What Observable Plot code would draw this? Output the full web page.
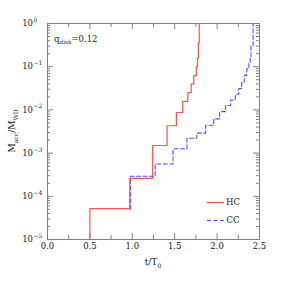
<!DOCTYPE html>
<html>
<head>
<meta charset="utf-8">
<script src="https://cdn.jsdelivr.net/npm/d3@7"></script>
<script src="https://cdn.jsdelivr.net/npm/@observablehq/plot@0.6"></script>
<style>
  html, body { margin: 0; padding: 0; background: #fff; }
  #chart { width: 281px; height: 281px; }
</style>
</head>
<body>
<div id="chart"></div>
<script>
// ---- data ----
const hcTime  = [0.5, 0.5, 0.97, 1.24, 1.41, 1.52, 1.595, 1.655, 1.695, 1.725, 1.755, 1.77, 1.78, 1.79];
const hcMass  = [1e-5, 5.2e-5, 2.6e-4, 1.5e-3, 4.3e-3, 8.7e-3, 0.0158, 0.025, 0.040, 0.062, 0.10, 0.16, 0.35, 1.0];
const ccTime  = [0.98, 0.98, 1.27, 1.48, 1.645, 1.76, 1.865, 1.96, 2.03, 2.10, 2.16, 2.215, 2.255, 2.29, 2.32, 2.35, 2.375, 2.39, 2.40, 2.425];
const ccMass  = [5e-5, 2.9e-4, 5.6e-4, 1.26e-3, 2.2e-3, 2.9e-3, 4.4e-3, 6.2e-3, 9.1e-3, 0.0126, 0.017, 0.023, 0.031, 0.044, 0.063, 0.089, 0.126, 0.166, 0.3, 1.0];
const xTicks      = [0, 0.5, 1.0, 1.5, 2.0, 2.5];
const xTickLabels = ["0.0", "0.5", "1.0", "1.5", "2.0", "2.5"];
const xMinor      = [0.25, 0.75, 1.25, 1.75, 2.25];
const yTicks      = [1e-5, 1e-4, 1e-3, 1e-2, 1e-1, 1];
const yExponents  = ["\u22125", "\u22124", "\u22123", "\u22122", "\u22121", "0"];
const seriesNames = ["HC", "CC"];
const annotation  = {q: "q", sub: "disk", rest: "=0.12"};

const hc = hcTime.map((t, i) => ({t, m: hcMass[i]}));
const cc = ccTime.map((t, i) => ({t, m: ccMass[i]}));
const yMinor = [];
for (let e = -5; e < 0; e++) for (let k = 2; k <= 9; k++) yMinor.push(k * Math.pow(10, e));

const W = 281, H = 281;
const mT = 23, mR = 22, mB = 42, mL = 47;
const iW = W - mL - mR, iH = H - mT - mB;
const FONT = "DejaVu Serif";
const AX = "#808080";
const RED = "#ff5050", BLUE = "#5050ff";

const svg = Plot.plot({
  width: W, height: H,
  marginTop: mT, marginRight: mR, marginBottom: mB, marginLeft: mL,
  style: {fontFamily: FONT, fontSize: "8.5px", color: "#222", background: "#fff"},
  x: {domain: [0, 2.5], axis: null},
  y: {type: "log", domain: [1e-5, 1], axis: null},
  marks: [
    Plot.line(cc, {x: "t", y: "m", curve: "step-after", stroke: BLUE, strokeWidth: 1.1, strokeDasharray: "4,2.5", clip: true}),
    Plot.line(hc, {x: "t", y: "m", curve: "step-after", stroke: RED, strokeWidth: 1.2, clip: true}),
    Plot.frame({stroke: AX, strokeWidth: 1}),
    // x ticks bottom / top (inward)
    Plot.ruleX(xTicks, {x: d => d, insetTop: iH - 6, stroke: AX}),
    Plot.ruleX(xTicks, {x: d => d, insetBottom: iH - 6, stroke: AX}),
    Plot.ruleX(xMinor, {x: d => d, insetTop: iH - 4, stroke: AX}),
    Plot.ruleX(xMinor, {x: d => d, insetBottom: iH - 4, stroke: AX}),
    // y ticks left / right (inward)
    Plot.ruleY(yTicks, {y: d => d, insetRight: iW - 6, stroke: AX}),
    Plot.ruleY(yTicks, {y: d => d, insetLeft: iW - 6, stroke: AX}),
    Plot.ruleY(yMinor, {y: d => d, insetRight: iW - 3, stroke: AX}),
    Plot.ruleY(yMinor, {y: d => d, insetLeft: iW - 3, stroke: AX}),
    // tick labels
    Plot.text(xTicks, {x: d => d, text: (d, i) => xTickLabels[i], frameAnchor: "bottom", dy: 9, fill: "#222"}),
    Plot.text(yTicks, {y: d => d, text: () => "10", frameAnchor: "left", dx: -14.5, textAnchor: "end", fill: "#222"}),
    Plot.text(yTicks, {y: d => d, text: (d, i) => yExponents[i], frameAnchor: "left", dx: -14, dy: -3.5, textAnchor: "start", fontSize: 6, fill: "#222"})
  ]
});

const s = d3.select(svg);
function rich(x, y, parts, opts = {}) {
  const t = s.append("text")
    .attr("font-family", FONT).attr("font-size", opts.size || 8.5)
    .attr("fill", "#222")
    .attr("text-anchor", opts.anchor || "start");
  if (opts.rotate) t.attr("transform", `translate(${x},${y}) rotate(${opts.rotate})`);
  else t.attr("x", x).attr("y", y);
  let shift = 0;
  parts.forEach(([str, sub]) => {
    const want = sub ? 2.5 : 0;
    const sp = t.append("tspan").attr("dy", want - shift).text(str);
    if (sub) sp.attr("font-size", (opts.size || 8.5) * 0.68);
    shift = want;
  });
  return t;
}

// axis titles
rich(15, mT + iH / 2, [["M", false], ["acc", true], ["/M", false], ["WD", true]], {anchor: "middle", rotate: -90, size: 9});
rich(mL + iW / 2, 265, [["t/T", false], ["0", true]], {anchor: "middle", size: 9});
// annotation
rich(54, 41.5, [[annotation.q, false], [annotation.sub, true], [annotation.rest, false]], {size: 8.5});

// legend
const leg = s.append("g");
leg.append("line").attr("x1", 207).attr("x2", 224).attr("y1", 202.5).attr("y2", 202.5)
  .attr("stroke", RED).attr("stroke-width", 1.2);
leg.append("line").attr("x1", 207).attr("x2", 224).attr("y1", 220.5).attr("y2", 220.5)
  .attr("stroke", BLUE).attr("stroke-width", 1.1).attr("stroke-dasharray", "4,2.5");
leg.append("text").attr("x", 233).attr("y", 202.5).attr("dy", "0.35em").attr("font-family", FONT)
  .attr("font-size", 8.5).attr("fill", "#222").text(seriesNames[0]);
leg.append("text").attr("x", 233).attr("y", 220.5).attr("dy", "0.35em").attr("font-family", FONT)
  .attr("font-size", 8.5).attr("fill", "#222").text(seriesNames[1]);

document.getElementById("chart").appendChild(svg);
</script>
</body>
</html>
